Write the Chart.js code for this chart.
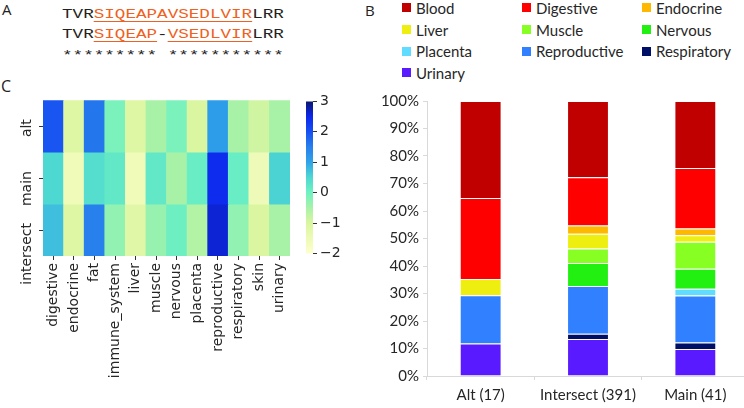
<!DOCTYPE html>
<html>
<head>
<meta charset="utf-8">
<script src="https://cdn.jsdelivr.net/npm/chart.js@4.4.1/dist/chart.umd.min.js"></script>
<style>
  html, body { margin: 0; padding: 0; background: #fff; overflow: hidden; width: 744px; height: 408px; }
  .panel { position: absolute; font-family: "Open Sans", sans-serif; font-size: 15px; line-height: 18px; color: #222; }
  .box { position: absolute; }
  #seq { position: absolute; left: 62px; top: 4.5px; font-family: "Liberation Mono", monospace; font-size: 13px;
         line-height: 20.7px; white-space: pre; color: #222; transform: scaleX(1.354); transform-origin: 0 0; }
  #seq .hl { color: #f06020; text-decoration: underline; text-decoration-thickness: 1px; text-underline-offset: 3px; }
  #legend { position: absolute; left: 402px; top: -3px; display: grid; grid-template-columns: 120px 120px 110px;
            grid-auto-rows: 21.7px; font-family: Lato, "Open Sans", sans-serif; font-size: 15px; color: #262626; }
  #legend div { display: flex; align-items: center; white-space: nowrap; }
  #legend span.sw { display: inline-block; width: 9px; height: 9px; margin-right: 5px; }
</style>
</head>
<body>
<div class="panel" style="left:2px;top:0px;">A</div>
<div class="panel" style="left:365px;top:1px;">B</div>
<div class="panel" style="left:1px;top:77px;font-size:16px;">C</div>

<div id="seq">TVR<span class="hl">SIQEAPAVSEDLVIR</span>LRR
TVR<span class="hl">SIQEAP</span>-<span class="hl">VSEDLVIR</span>LRR
********* ***********</div>

<div id="legend"></div>

<div class="box" style="left:0px;top:90px;width:300px;height:318px;"><canvas id="heat"></canvas></div>
<div class="box" style="left:300px;top:90px;width:44px;height:175px;"><canvas id="cbar"></canvas></div>
<div class="box" style="left:370px;top:88px;width:379px;height:320px;"><canvas id="bars"></canvas></div>

<script>
// ---- panel B: tissue share per gene group (percent)
const groups = ['Alt (17)', 'Intersect (391)', 'Main (41)'];
const tissues = ['Blood', 'Digestive', 'Endocrine', 'Liver', 'Muscle', 'Nervous', 'Placenta', 'Reproductive', 'Respiratory', 'Urinary'];
const tissueColors = ['#c00000', '#ff0000', '#ffb800', '#eeee10', '#88ff22', '#22f011', '#5fdcff', '#3080ff', '#000f66', '#5a1aff'];
const blood        = [35.3, 27.7, 24.4];
const digestive    = [29.4, 17.6, 22.0];
const endocrine    = [0,     3.0,  2.4];
const liver        = [5.9,   5.3,  2.4];
const muscle       = [0,     5.3,  9.8];
const nervous      = [0,     8.4,  7.3];
const placenta     = [0,     0,    2.4];
const reproductive = [17.6, 17.3, 17.1];
const respiratory  = [0,     1.9,  2.4];
const urinary      = [11.8, 13.5,  9.8];
const shareRows = [blood, digestive, endocrine, liver, muscle, nervous, placenta, reproductive, respiratory, urinary];
const pctTicks = [0, 10, 20, 30, 40, 50, 60, 70, 80, 90, 100];

// ---- panel C: z-scores per row / tissue
const heatCols = ['digestive', 'endocrine', 'fat', 'immune_system', 'liver', 'muscle', 'nervous', 'placenta', 'reproductive', 'respiratory', 'skin', 'urinary'];
const heatRows = ['alt', 'main', 'intersect'];
const altZ       = [1.95, -1.1, 1.6, -0.1, -1.1, -0.5, -0.1, -1.0, 1.1, -0.5, -0.9, -0.5];
const mainZ      = [0.5, -1.6, 0.4, 0.2, -1.6, 0.2, -0.5, 0.1, 2.45, 0.1, -1.55, 0.55];
const intersectZ = [0.75, -1.1, 1.5, -0.3, -1.15, -0.35, 0.05, -0.6, 2.6, -0.3, -1.0, -0.5];
const heatValues = [altZ, mainZ, intersectZ];
const cbarTicks = [-2, -1, 0, 1, 2, 3];

const cmapStops = [
  [-2,   [255, 255, 204]],
  [-1,   [218, 246, 160]],
  [-0.5, [168, 242, 168]],
  [0,    [112, 242, 192]],
  [0.5,  [78, 216, 210]],
  [1,    [48, 164, 232]],
  [1.5,  [40, 128, 236]],
  [2,    [22, 80, 242]],
  [2.5,  [12, 40, 236]],
  [3,    [10, 22, 110]]
];

function cmap(v) {
  if (v <= cmapStops[0][0]) return 'rgb(' + cmapStops[0][1].join(',') + ')';
  for (let i = 1; i < cmapStops.length; i++) {
    const [v1, c1] = cmapStops[i];
    const [v0, c0] = cmapStops[i - 1];
    if (v <= v1) {
      const t = (v - v0) / (v1 - v0);
      const c = c0.map((a, k) => Math.round(a + (c1[k] - a) * t));
      return 'rgb(' + c.join(',') + ')';
    }
  }
  return 'rgb(' + cmapStops[cmapStops.length - 1][1].join(',') + ')';
}

const textColor = '#262626';
const mplFont = { family: '"DejaVu Sans", sans-serif', size: 14 };

// heatmap: one floating bar per cell
const heatRowLabels = {
  id: 'heatRowLabels',
  afterDraw(chart) {
    const y = chart.scales.y;
    const ctx = chart.ctx;
    ctx.save();
    ctx.fillStyle = textColor;
    ctx.font = '14px "DejaVu Sans", sans-serif';
    ctx.textAlign = 'right';
    ctx.textBaseline = 'middle';
    heatRows.forEach((name, i) => {
      const py = y.getPixelForValue(i + 0.5);
      ctx.save();
      ctx.translate(27, py - 7);
      ctx.rotate(-Math.PI / 2);
      ctx.fillText(name, 0, 0);
      ctx.restore();
    });
    ctx.restore();
  }
};

new Chart(document.getElementById('heat'), {
  type: 'bar',
  data: {
    labels: heatCols,
    datasets: heatRows.map((name, r) => ({
      label: name,
      data: heatCols.map(() => [r, r + 1]),
      backgroundColor: ctx => cmap(heatValues[r][ctx.dataIndex]),
      borderWidth: 0,
      barPercentage: 1,
      categoryPercentage: 1,
      grouped: false
    }))
  },
  options: {
    responsive: true,
    maintainAspectRatio: false,
    animation: false,
    layout: { padding: { top: 7, right: 10 } },
    plugins: { legend: { display: false }, tooltip: { enabled: false } },
    scales: {
      x: {
        grid: { display: true, drawOnChartArea: false, offset: false, tickLength: 4, color: '#333' },
        border: { display: false },
        ticks: { minRotation: 90, maxRotation: 90, color: textColor, font: mplFont, padding: 3, autoSkip: false },
        afterFit: s => { s.height = 152; }
      },
      y: {
        min: 0, max: 3, reverse: true,
        afterBuildTicks: s => { s.ticks = heatRows.map((n, i) => ({ value: i + 0.5 })); },
        grid: { display: true, drawOnChartArea: false, tickLength: 4, color: '#333' },
        border: { display: false },
        ticks: { callback: () => '' },
        afterFit: s => { s.width = 43; }
      }
    }
  },
  plugins: [heatRowLabels]
});

// colour bar
new Chart(document.getElementById('cbar'), {
  type: 'bar',
  data: {
    labels: [''],
    datasets: [{
      data: [[cbarTicks[0], cbarTicks[cbarTicks.length - 1]]],
      backgroundColor: ctx => {
        const area = ctx.chart.chartArea;
        if (!area) return '#fff';
        const ys = ctx.chart.scales.y;
        const g = ctx.chart.ctx.createLinearGradient(0, ys.getPixelForValue(-2), 0, ys.getPixelForValue(3));
        for (let i = 0; i <= 50; i++) {
          const v = -2 + 5 * i / 50;
          g.addColorStop(i / 50, cmap(v));
        }
        return g;
      },
      borderWidth: 0,
      barPercentage: 1,
      categoryPercentage: 1
    }]
  },
  options: {
    responsive: true,
    maintainAspectRatio: false,
    animation: false,
    layout: { padding: { top: 7, left: 6, bottom: 9 } },
    plugins: { legend: { display: false }, tooltip: { enabled: false } },
    scales: {
      x: { display: false },
      y: {
        position: 'right',
        min: -2, max: 3,
        grid: { display: true, drawOnChartArea: false, tickLength: 4, color: '#333' },
        border: { display: false },
        ticks: { stepSize: 1, color: textColor, font: mplFont, padding: 3,
                 callback: v => (v < 0 ? '\u2212' + Math.abs(v) : String(v)) },
        afterFit: s => { s.width = 31; }
      }
    }
  }
});

// stacked percentage bars
const barDatasets = tissues.map((name, i) => ({
  label: name,
  data: shareRows[i],
  backgroundColor: tissueColors[i],
  borderColor: 'rgba(255,255,255,0.75)',
  borderWidth: 1,
  barPercentage: 0.39,
  categoryPercentage: 1
})).reverse();

const barChart = new Chart(document.getElementById('bars'), {
  type: 'bar',
  data: { labels: groups, datasets: barDatasets },
  options: {
    responsive: true,
    maintainAspectRatio: false,
    animation: false,
    layout: { padding: { top: 12 } },
    plugins: { legend: { display: false }, tooltip: { enabled: false } },
    scales: {
      x: {
        stacked: true,
        grid: { display: true, drawOnChartArea: false, tickLength: 4, color: '#d9d9d9' },
        border: { color: '#d9d9d9' },
        ticks: { color: textColor, font: { family: 'Lato, "Open Sans", sans-serif', size: 15 }, padding: 6 },
        afterFit: s => { s.height = 32; }
      },
      y: {
        stacked: true,
        min: 0, max: 100,
        afterBuildTicks: s => { s.ticks = pctTicks.map(v => ({ value: v })); },
        grid: { display: true, drawOnChartArea: false, tickLength: 4, color: '#d9d9d9' },
        border: { color: '#d9d9d9' },
        ticks: { color: textColor, font: { family: 'Lato, "Open Sans", sans-serif', size: 15 }, padding: 4,
                 callback: v => v + '%' },
        afterFit: s => { s.width = 57; }
      }
    }
  }
});

// html legend in three columns, legend order = tissues order
const legendEl = document.getElementById('legend');
tissues.forEach((name, i) => {
  const item = document.createElement('div');
  item.innerHTML = '<span class="sw" style="background:' + tissueColors[i] + '"></span>' + name;
  legendEl.appendChild(item);
});
</script>
</body>
</html>
